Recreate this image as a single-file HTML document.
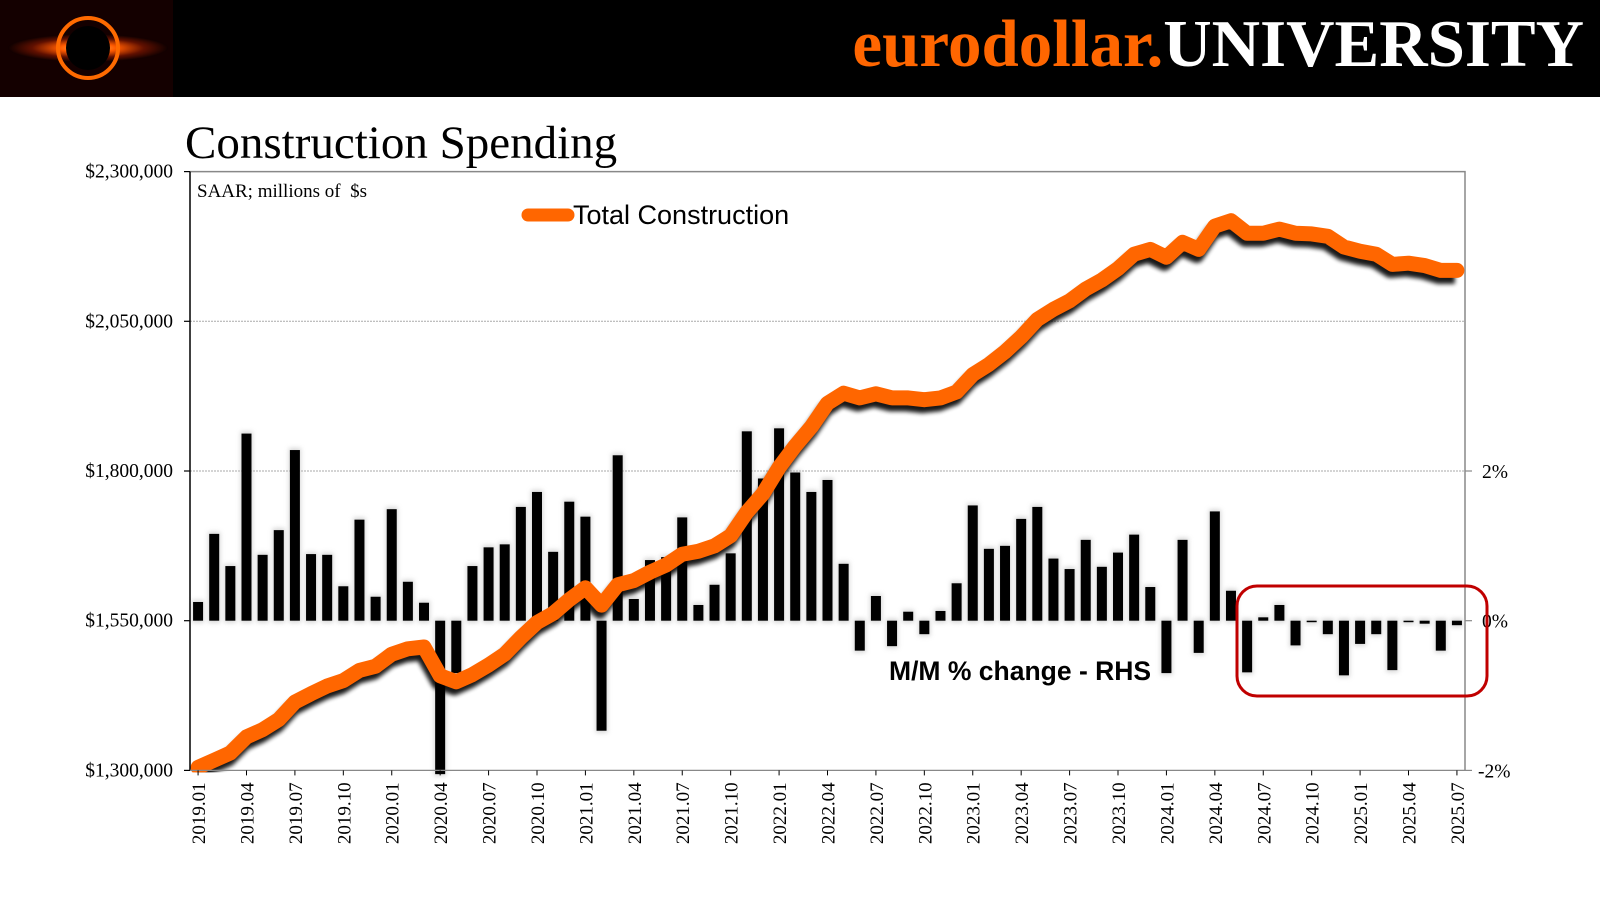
<!DOCTYPE html>
<html><head><meta charset="utf-8"><style>
body{margin:0;width:1600px;height:900px;background:#fff;overflow:hidden;font-family:"Liberation Serif",serif}
</style></head><body>
<svg width="1600" height="900" xmlns="http://www.w3.org/2000/svg">
<defs>
<radialGradient id="lg" cx="50%" cy="50%" r="50%"><stop offset="0" stop-color="#ffcc66"/><stop offset="0.35" stop-color="#ff5a00"/><stop offset="0.7" stop-color="#601000"/><stop offset="1" stop-color="#100000"/></radialGradient>
<filter id="glow" x="-50%" y="-50%" width="200%" height="200%"><feGaussianBlur stdDeviation="2.5"/></filter>
<filter id="sh" x="-10%" y="-10%" width="120%" height="120%"><feGaussianBlur stdDeviation="2"/></filter>
</defs>
<rect x="0" y="0" width="1600" height="97" fill="#000"/>
<g>
<rect x="0" y="0" width="173" height="97" fill="#140000"/>
<ellipse cx="88" cy="48" rx="80" ry="14" fill="url(#lg)"/>
<circle cx="88" cy="48" r="30" fill="none" stroke="#ff6a00" stroke-width="4"/>
<circle cx="88" cy="48" r="22" fill="#000"/>
</g>
<text x="1584" y="66" text-anchor="end" font-family="Liberation Serif, serif" font-weight="bold" font-size="67"><tspan fill="#ff6600">eurodollar.</tspan><tspan fill="#fff">UNIVERSITY</tspan></text>
<text x="185" y="158" font-family="Liberation Serif, serif" font-size="47" fill="#000">Construction Spending</text>
<g id="plot"></g>
</svg>
<script>
const categories=[];for(let y=2019;y<=2025;y++)for(let m=1;m<=12;m++){if(y===2025&&m>7)break;categories.push(y+'.'+String(m).padStart(2,'0'));}
const totalConstruction=[1305,1317,1329,1356,1368,1385,1414,1428,1441,1450,1467,1474,1494,1503,1506,1458,1448,1460,1476,1494,1522,1547,1562,1585,1605,1576,1610,1617,1631,1643,1661,1666,1675,1692,1731,1762,1806,1842,1874,1913,1930,1922,1929,1922,1922,1919,1922,1932,1961,1978,1999,2024,2053,2070,2084,2104,2119,2138,2162,2170,2157,2182,2170,2209,2218,2197,2197,2204,2197,2196,2192,2174,2167,2162,2145,2147,2143,2135,2135];
const momChange=[0.25,1.16,0.73,2.50,0.88,1.21,2.28,0.89,0.88,0.46,1.35,0.32,1.49,0.52,0.24,-2.3,-0.7,0.73,0.98,1.02,1.52,1.72,0.92,1.59,1.39,-1.47,2.21,0.29,0.81,0.85,1.38,0.21,0.48,0.9,2.53,1.9,2.57,1.98,1.72,1.88,0.76,-0.40,0.33,-0.34,0.12,-0.18,0.13,0.50,1.54,0.96,1.0,1.36,1.52,0.83,0.69,1.08,0.72,0.91,1.15,0.45,-0.70,1.08,-0.43,1.46,0.40,-0.69,0.045,0.21,-0.33,-0.02,-0.18,-0.73,-0.31,-0.18,-0.66,-0.01,-0.04,-0.40,-0.06];
const leftTicks=[1300000,1550000,1800000,2050000,2300000];
const leftTickLabels=['$1,300,000','$1,550,000','$1,800,000','$2,050,000','$2,300,000'];
const rightTicks=[-2,0,2];
const rightTickLabels=['-2%','0%','2%'];

const NS='http://www.w3.org/2000/svg';
const L=190,R=1465,T=171.6,B=770.4;
const n=categories.length,step=(R-L)/n;
const xC=i=>L+step*(i+0.5);
const yL=v=>B-(v-1300000)/1000000*(B-T);
const yRight=p=>{const y0=yL(1550000),y2=yL(1800000);return y0-(p/2)*(y0-y2);};
const g=document.getElementById('plot');
function mk(t,a,p){const e=document.createElementNS(NS,t);for(const k in a)e.setAttribute(k,a[k]);(p||g).appendChild(e);return e;}
[1800000,2050000].forEach(v=>{const e=mk('line',{x1:L,x2:R,y1:yL(v),y2:yL(v),stroke:'#aaa','stroke-width':1,'stroke-dasharray':'2,1'});

});
const fr=mk('path',{d:`M${L},${T}H${R}V${B}`,fill:'none',stroke:'#888','stroke-width':1.5});


const bg=mk('g',{});


momChange.forEach((p,i)=>{const y0=yRight(0);let y1=yRight(Math.max(-2.05,Math.min(p,4)));const top=Math.min(y0,y1),h=Math.max(Math.abs(y1-y0),1.5);
mk('rect',{x:xC(i)-6,y:top-2,width:12,height:h+4,fill:'#bbb',filter:'url(#glow)',opacity:0.6},bg);
const r=mk('rect',{x:xC(i)-5,y:top,width:10,height:h,fill:'#000'},bg);

});
const pts=totalConstruction.map((v,i)=>xC(i).toFixed(1)+','+yL(v*1000).toFixed(1)).join(' ');
const clip=mk('clipPath',{id:'pc'});mk('rect',{x:L,y:T,width:R-L,height:B-T+2},clip);
const lg=mk('g',{'clip-path':'url(#pc)'});


mk('polyline',{points:pts,fill:'none',stroke:'#000','stroke-width':15,'stroke-linejoin':'round',transform:'translate(-2,6)',filter:'url(#sh)',opacity:0.9},lg);
const pl=mk('polyline',{points:pts,fill:'none',stroke:'#ff6600','stroke-width':15,'stroke-linejoin':'round','stroke-linecap':'round'},lg);


const la=mk('line',{x1:L,x2:L,y1:T,y2:B,stroke:'#000','stroke-width':1.5});


leftTicks.forEach((v,i)=>{mk('line',{x1:L-6,x2:L,y1:yL(v),y2:yL(v),stroke:'#000','stroke-width':1.2});
const t=mk('text',{x:173,y:yL(v)+6,'text-anchor':'end','font-size':19.5,fill:'#000'});t.textContent=leftTickLabels[i];

});
rightTicks.forEach((p,i)=>{mk('line',{x1:R,x2:R+7,y1:yRight(p),y2:yRight(p),stroke:'#888','stroke-width':1.2});
const t=mk('text',{x:R+(p<0?13:17),y:yRight(p)+7,'font-size':19.5,fill:'#000'});t.textContent=rightTickLabels[i];

});
const ba=mk('line',{x1:L,x2:R,y1:B,y2:B,stroke:'#888','stroke-width':1.2});


categories.forEach((c,i)=>{if(i%3===0){mk('line',{x1:xC(i),x2:xC(i),y1:B,y2:B+5,stroke:'#000','stroke-width':1});
const x=xC(i)+7,y=B+12;const t=mk('text',{x:x,y:y,'text-anchor':'end','font-size':19,fill:'#000',transform:`rotate(-90 ${x} ${y})`});t.textContent=c;

}});
const s=mk('text',{x:197,y:197,'font-size':19,fill:'#000','xml:space':'preserve'});s.textContent='SAAR; millions of\u00a0 $s';


const lgd=mk('g',{});


mk('line',{x1:528,x2:568,y1:215,y2:215,stroke:'#ff6600','stroke-width':13,'stroke-linecap':'round'},lgd);
const lt=mk('text',{x:573,y:224,'font-size':27,fill:'#000','font-family':'Liberation Sans, sans-serif'},lgd);lt.textContent='Total Construction';
const mm=mk('text',{x:889,y:680,'font-size':26.5,'font-weight':'bold',fill:'#000','font-family':'Liberation Sans, sans-serif'});mm.textContent='M/M % change - RHS';


const rb=mk('rect',{x:1237,y:586,width:250,height:110,rx:20,fill:'none',stroke:'#c00000','stroke-width':3});


</script>
</body></html>
